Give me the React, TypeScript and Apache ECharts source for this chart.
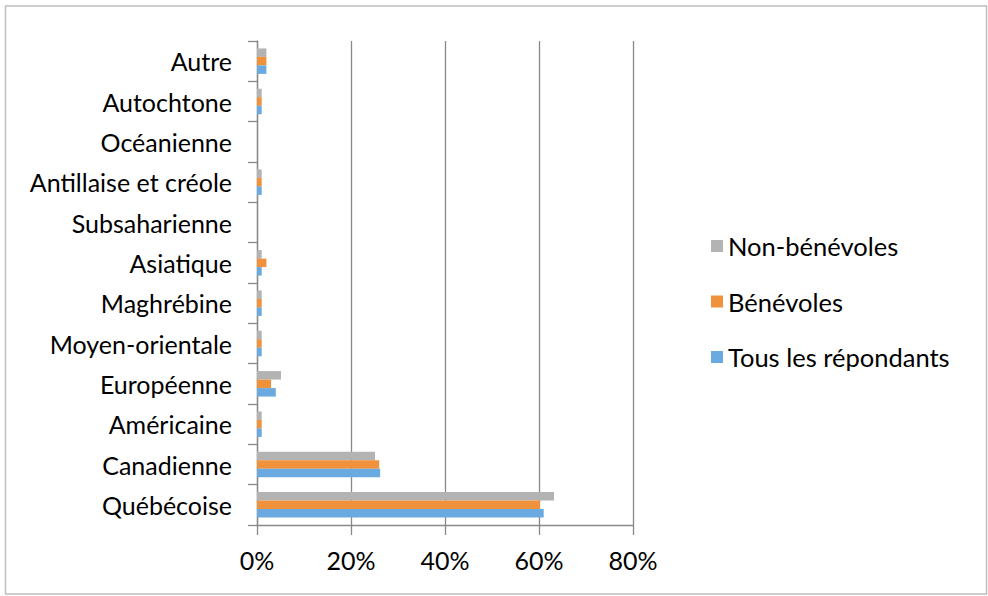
import React, { useEffect, useRef } from "react";
import * as echarts from "echarts";

const categories = [
  "Québécoise",
  "Canadienne",
  "Américaine",
  "Européenne",
  "Moyen-orientale",
  "Maghrébine",
  "Asiatique",
  "Subsaharienne",
  "Antillaise et créole",
  "Océanienne",
  "Autochtone",
  "Autre",
];

const tousLesRepondants = [0.61, 0.262, 0.01, 0.04, 0.01, 0.01, 0.01, 0, 0.01, 0, 0.01, 0.02];
const benevoles = [0.602, 0.26, 0.01, 0.03, 0.01, 0.01, 0.02, 0, 0.01, 0, 0.01, 0.02];
const nonBenevoles = [0.632, 0.251, 0.01, 0.051, 0.01, 0.01, 0.01, 0, 0.01, 0, 0.01, 0.02];

const xTicks = [0, 0.2, 0.4, 0.6, 0.8];

const FONT = "Lato";

export default function App() {
  const ref = useRef<HTMLDivElement>(null);
  useEffect(() => {
    document.body.style.margin = "0";
    if (!ref.current) return;
    const chart = echarts.init(ref.current, null, { renderer: "svg" });
    const barCommon = { type: "bar" as const, barWidth: 8.5, barGap: "0%", barCategoryGap: "36%" };
    chart.setOption({
      animation: false,
      textStyle: { fontFamily: FONT },
      graphic: [
        {
          type: "rect",
          shape: { x: 5.5, y: 6, width: 981, height: 588 },
          style: { fill: "none", stroke: "#BFBFBF", lineWidth: 1.5 },
          silent: true,
        },
      ],
      grid: { left: 257, top: 41, width: 376, height: 484, containLabel: false },
      legend: {
        orient: "vertical",
        left: 706,
        top: 228,
        itemWidth: 12,
        itemHeight: 12,
        itemGap: 29.5,
        icon: "rect",
        data: ["Non-bénévoles", "Bénévoles", "Tous les répondants"],
        textStyle: { fontFamily: FONT, fontSize: 25.5, color: "#000" },
      },
      xAxis: {
        type: "value",
        min: xTicks[0],
        max: xTicks[xTicks.length - 1],
        interval: 0.2,
        axisLine: { show: true, lineStyle: { color: "#898989", width: 1.3 } },
        axisTick: { show: true, length: 10, lineStyle: { color: "#898989", width: 1.3 } },
        splitLine: { show: true, lineStyle: { color: "#898989", width: 1.3 } },
        axisLabel: {
          margin: 22,
          fontSize: 25,
          color: "#000",
          fontFamily: FONT,
          formatter: (v: number) => `${Math.round(v * 100)}%`,
        },
      },
      yAxis: {
        type: "category",
        data: categories,
        axisLine: { show: true, lineStyle: { color: "#898989", width: 1.3 } },
        axisTick: { show: true, length: 9, lineStyle: { color: "#898989", width: 1.3 } },
        axisLabel: { margin: 25, fontSize: 25, color: "#000", fontFamily: FONT, padding: [4, 0, 0, 0] },
      },
      series: [
        { ...barCommon, name: "Non-bénévoles", data: nonBenevoles, itemStyle: { color: "#B3B3B3" } },
        { ...barCommon, name: "Bénévoles", data: benevoles, itemStyle: { color: "#F0913C" } },
        { ...barCommon, name: "Tous les répondants", data: tousLesRepondants, itemStyle: { color: "#6AAAE0" } },
      ],
    });
    return () => chart.dispose();
  }, []);
  return <div ref={ref} style={{ width: 988, height: 596 }} />;
}
